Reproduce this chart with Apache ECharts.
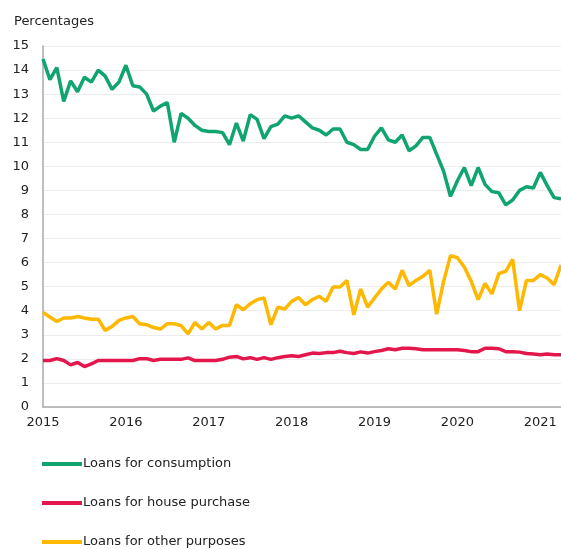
<!DOCTYPE html>
<html>
<head>
<meta charset="utf-8">
<script src="https://cdn.jsdelivr.net/npm/echarts@6/dist/echarts.min.js"></script>
<style>
  html, body { margin: 0; padding: 0; background: #fff; }
  #main { width: 561px; height: 549px; }
</style>
</head>
<body>
<div id="main"></div>
<script>
// monthly, Jan 2015 .. Apr 2021
var months = [];
for (var y = 2015; y <= 2021; y++) {
  for (var m = 1; m <= 12; m++) {
    if (y === 2021 && m > 4) break;
    months.push(y + '-' + (m < 10 ? '0' + m : m));
  }
}

var consumption = [14.46, 13.6, 14.1, 12.7, 13.55, 13.1, 13.7, 13.5, 14.0, 13.75, 13.2, 13.5,
  14.2, 13.35, 13.3, 13.0, 12.3, 12.5, 12.65, 11.0, 12.2, 12.0, 11.7, 11.5,
  11.45, 11.45, 11.4, 10.9, 11.8, 11.05, 12.15, 11.95, 11.15, 11.65, 11.75, 12.1,
  12.0, 12.1, 11.85, 11.6, 11.5, 11.3, 11.55, 11.55, 11.0, 10.9, 10.7, 10.7,
  11.25, 11.6, 11.1, 11.0, 11.3, 10.65, 10.85, 11.2, 11.2, 10.5, 9.8, 8.75,
  9.4, 9.95, 9.2, 9.95, 9.25, 8.95, 8.9, 8.4, 8.6, 9.0, 9.15, 9.1,
  9.75, 9.2, 8.7, 8.65];

var housePurchase = [1.93, 1.93, 2.01, 1.93, 1.75, 1.85, 1.68, 1.79, 1.93, 1.93, 1.93, 1.93,
  1.93, 1.93, 2.01, 2.01, 1.93, 1.98, 1.98, 1.98, 1.98, 2.04, 1.93, 1.93,
  1.93, 1.93, 1.98, 2.07, 2.1, 2.0, 2.05, 1.98, 2.05, 1.98, 2.05, 2.1,
  2.13, 2.1, 2.17, 2.24, 2.22, 2.26, 2.26, 2.32, 2.26, 2.22, 2.29, 2.24,
  2.3, 2.35, 2.42, 2.38, 2.44, 2.44, 2.42, 2.38, 2.38, 2.38, 2.38, 2.38,
  2.38, 2.35, 2.3, 2.3, 2.44, 2.44, 2.42, 2.3, 2.3, 2.28, 2.22, 2.2,
  2.17, 2.2, 2.17, 2.17];

var otherPurposes = [3.93, 3.74, 3.55, 3.7, 3.7, 3.76, 3.7, 3.65, 3.65, 3.18, 3.35, 3.6,
  3.7, 3.76, 3.46, 3.42, 3.3, 3.24, 3.46, 3.46, 3.38, 3.04, 3.51, 3.24,
  3.51, 3.24, 3.39, 3.39, 4.25, 4.04, 4.29, 4.46, 4.53, 3.42, 4.15, 4.07,
  4.39, 4.55, 4.25, 4.46, 4.6, 4.39, 4.99, 4.99, 5.26, 3.83, 4.9, 4.15,
  4.53, 4.9, 5.18, 4.9, 5.68, 5.04, 5.26, 5.43, 5.68, 3.86, 5.22, 6.29,
  6.2, 5.82, 5.22, 4.46, 5.13, 4.7, 5.54, 5.64, 6.13, 4.0, 5.26, 5.26,
  5.5, 5.36, 5.08, 5.9];

var seriesNames = ['Loans for consumption', 'Loans for house purchase', 'Loans for other purposes'];
var colors = ['#10a46f', '#e3174c', '#ffb800'];

var chart = echarts.init(document.getElementById('main'));

function lineSeries(name, data, color) {
  return {
    name: name, type: 'line', data: data, symbol: 'none',
    lineStyle: { width: 3.5, color: color }, itemStyle: { color: color }
  };
}

chart.setOption({
  animation: false,
  backgroundColor: '#fff',
  textStyle: { fontFamily: 'DejaVu Sans' },
  title: {
    text: 'Percentages', left: 9, top: 10,
    textStyle: { fontSize: 13, fontWeight: 'normal', color: '#222', fontFamily: 'DejaVu Sans' }
  },
  grid: { left: 43, right: -3, top: 46, bottom: 142 },
  legend: {
    orient: 'vertical', left: 42, top: 457, itemGap: 25, padding: 0,
    icon: 'rect', itemWidth: 40, itemHeight: 4,
    textStyle: { fontSize: 13, color: '#222', lineHeight: 14, padding: [0, 0, 0, -4] },
    data: seriesNames
  },
  xAxis: {
    type: 'category', data: months, boundaryGap: false,
    axisLine: { lineStyle: { color: '#aaa', width: 1.5 } },
    axisTick: { show: false },
    axisLabel: {
      interval: 11, color: '#222', fontSize: 13, margin: 9,
      formatter: function (v) { return v.slice(0, 4); }
    },
    splitLine: { show: false }
  },
  yAxis: {
    type: 'value', min: 0, max: 15, interval: 1,
    axisLine: { show: true, lineStyle: { color: '#aaa', width: 1.5 } },
    axisTick: { show: false },
    axisLabel: { color: '#222', fontSize: 13, margin: 14 },
    splitLine: { lineStyle: { color: '#ececec', width: 1 } }
  },
  series: [
    lineSeries(seriesNames[0], consumption, colors[0]),
    lineSeries(seriesNames[1], housePurchase, colors[1]),
    lineSeries(seriesNames[2], otherPurposes, colors[2])
  ]
});
</script>
</body>
</html>
